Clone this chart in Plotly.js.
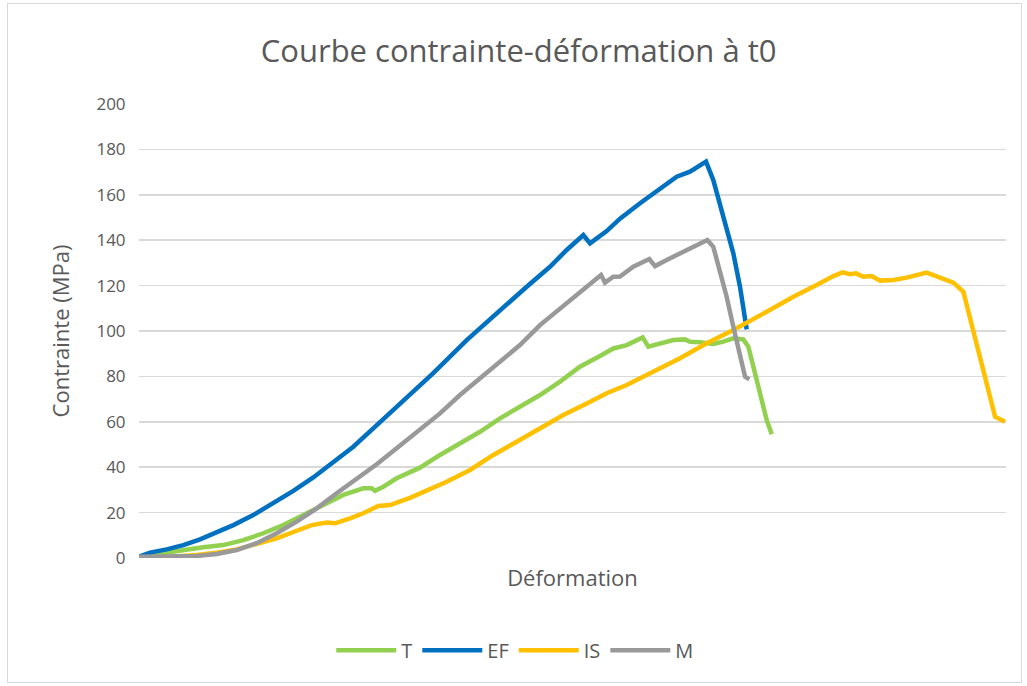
<!DOCTYPE html>
<html>
<head>
<meta charset="utf-8">
<script src="https://cdn.plot.ly/plotly-3.0.1.min.js"></script>
<style>
  html, body { margin: 0; padding: 0; background: #fff; }
  #chart { width: 1027px; height: 686px; }
  #frame { position: absolute; left: 7px; top: 3px; width: 1013px; height: 678px; border: 1px solid #d9d9d9; pointer-events: none; }
</style>
</head>
<body>
<div id="chart"></div>
<div id="frame"></div>
<script>
// Déformation (unités arbitraires, axe sans graduations) et contrainte (MPa)
const T_x = [0.0, 2.80, 5.11, 7.42, 9.72, 12.03, 14.34, 16.64, 18.95, 21.26, 23.56, 25.87, 26.84, 27.22, 28.18, 29.72, 31.26, 32.41, 34.72, 37.02, 39.33, 41.64, 43.94, 46.25, 48.56, 50.86, 53.17, 54.71, 56.25, 58.09, 58.75, 60.09, 61.63, 62.98, 63.55, 64.71, 66.24, 67.39, 68.55, 69.70, 70.28, 70.86, 71.63, 72.40, 72.98];
const T_y = [0.6, 2.1, 3.8, 4.7, 5.7, 7.9, 10.9, 14.5, 18.9, 23.3, 27.8, 30.7, 30.7, 29.6, 31.4, 35.1, 37.5, 39.8, 45.4, 50.5, 55.6, 61.5, 66.7, 71.8, 77.7, 84.3, 89.0, 92.3, 93.8, 97.2, 93.1, 94.6, 96.0, 96.3, 95.3, 95.0, 94.3, 95.3, 96.8, 96.3, 93.1, 84.3, 72.6, 60.8, 54.5];

const EF_x = [0.0, 1.27, 3.19, 5.11, 7.04, 8.96, 10.88, 13.18, 15.49, 17.80, 20.10, 22.41, 24.72, 27.02, 29.33, 31.26, 33.94, 37.80, 41.64, 44.72, 47.40, 49.33, 51.25, 52.02, 53.94, 55.48, 57.79, 60.09, 62.02, 63.55, 65.40, 66.24, 67.39, 68.55, 69.32, 70.09];
const EF_y = [0.6, 2.4, 3.8, 5.7, 8.2, 11.1, 14.5, 18.9, 24.1, 29.6, 35.5, 42.4, 49.0, 57.1, 65.2, 71.5, 81.4, 96.0, 109.3, 119.5, 128.3, 135.7, 142.3, 138.6, 144.0, 149.5, 156.3, 162.9, 168.0, 170.2, 174.6, 166.5, 150.4, 134.2, 119.5, 100.7];

const IS_x = [0.0, 2.80, 6.65, 8.96, 11.27, 13.57, 15.88, 18.19, 19.92, 21.65, 22.61, 24.34, 25.87, 27.60, 28.95, 31.26, 35.49, 38.18, 40.87, 43.56, 46.25, 48.94, 51.64, 53.94, 56.25, 59.32, 62.40, 65.48, 68.55, 72.40, 75.47, 78.16, 80.08, 81.16, 82.01, 82.70, 83.54, 84.51, 85.47, 87.00, 88.54, 90.85, 92.39, 93.93, 95.08, 96.23, 97.39, 98.74, 99.88];
const IS_y = [0.0, 0.3, 1.3, 2.3, 3.8, 6.0, 8.7, 12.0, 14.5, 15.6, 15.3, 17.5, 19.7, 22.9, 23.3, 26.5, 33.6, 38.8, 45.4, 51.2, 57.1, 63.0, 68.1, 72.6, 76.2, 82.1, 88.0, 94.6, 100.4, 108.5, 115.1, 120.3, 124.2, 125.8, 125.0, 125.4, 123.9, 124.2, 122.2, 122.5, 123.5, 125.7, 123.7, 121.3, 117.3, 100.4, 82.8, 62.2, 60.0];

const M_x = [0.0, 2.80, 6.65, 8.96, 11.27, 13.57, 15.88, 18.19, 20.50, 22.80, 25.11, 27.42, 29.72, 32.41, 34.72, 37.02, 39.33, 41.64, 43.94, 46.25, 48.56, 50.86, 52.40, 53.29, 53.75, 54.71, 55.48, 57.01, 58.86, 59.52, 60.87, 62.40, 63.94, 65.55, 66.24, 67.01, 67.78, 68.55, 69.32, 69.90, 70.39];
const M_y = [0.6, 0.6, 0.9, 1.8, 3.5, 6.5, 10.9, 16.0, 21.9, 28.5, 34.7, 41.3, 48.3, 56.4, 63.7, 71.8, 79.2, 86.5, 93.8, 102.6, 110.0, 117.3, 121.7, 124.7, 121.3, 123.9, 124.0, 128.3, 131.7, 128.6, 131.3, 134.2, 137.4, 140.1, 137.1, 126.9, 115.1, 101.9, 88.7, 79.9, 78.7];

const yTicks = [0, 20, 40, 60, 80, 100, 120, 140, 160, 180, 200];

const FONT = "Open Sans, Liberation Sans, sans-serif";
const TXT = "#595959";

function series(name, x, y, color) {
  return { type: "scatter", mode: "lines", name: name, x: x, y: y,
           line: { color: color, width: 4.5 }, hoverinfo: "skip" };
}

const data = [
  series("T", T_x, T_y, "#92D050"),
  series("EF", EF_x, EF_y, "#0070C0"),
  series("IS", IS_x, IS_y, "#FFC000"),
  series("M", M_x, M_y, "#999999")
];

const layout = {
  width: 1027, height: 686,
  margin: { l: 139, r: 21, t: 104, b: 128 },
  paper_bgcolor: "#ffffff", plot_bgcolor: "#ffffff",
  font: { family: FONT, color: TXT },
  showlegend: true,
  title: { text: "Courbe contrainte-déformation à t0", font: { family: FONT, size: 31, color: TXT },
           x: 0.505, xanchor: "center", y: 0.925, yanchor: "middle" },
  xaxis: {
    range: [0, 100], showticklabels: false, showgrid: false, zeroline: false, showline: false, ticks: "",
    title: { text: "Déformation", font: { family: FONT, size: 22, color: TXT }, standoff: 12 }
  },
  yaxis: {
    range: [0, 200], tickvals: yTicks, ticktext: yTicks.map(String),
    showgrid: true, gridcolor: "#d9d9d9", gridwidth: 1.5, zeroline: false, showline: false,
    ticks: "outside", ticklen: 9, tickcolor: "rgba(0,0,0,0)",
    tickfont: { family: FONT, size: 17, color: TXT },
    title: { text: "Contrainte (MPa)", font: { family: FONT, size: 22, color: TXT }, standoff: 20 }
  },
  legend: {
    orientation: "h", x: 0.434, xanchor: "center", y: -0.203, yanchor: "middle",
    font: { family: FONT, size: 20, color: TXT }, itemwidth: 60, tracegroupgap: 0,
    bgcolor: "rgba(0,0,0,0)"
  }
};

Plotly.newPlot("chart", data, layout, { displayModeBar: false, staticPlot: true });
</script>
</body>
</html>
